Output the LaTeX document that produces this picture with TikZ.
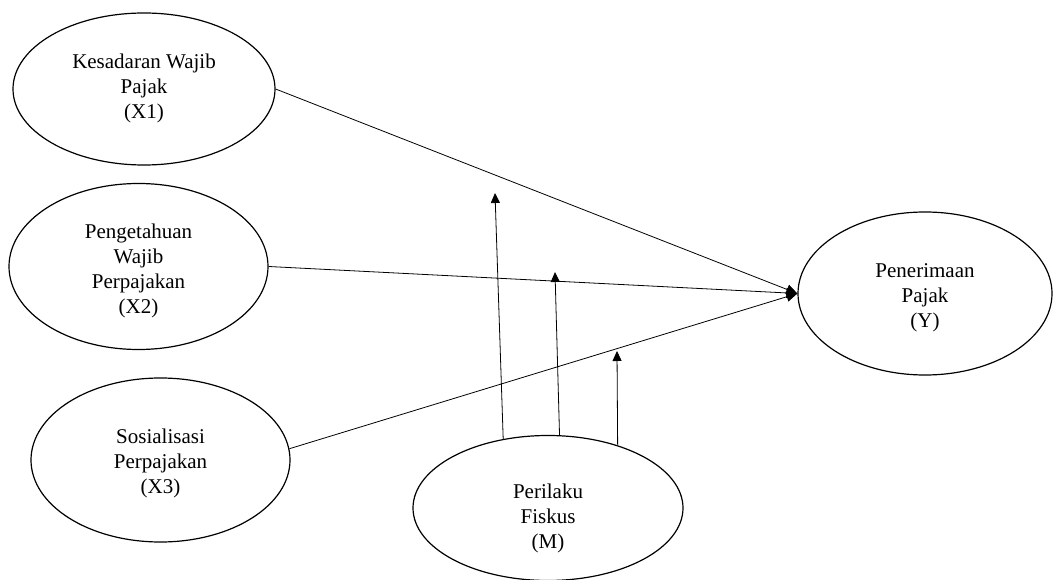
\documentclass[tikz,border=0pt]{standalone}
\usepackage{fontspec}
\setmainfont{Liberation Serif}
\usetikzlibrary{shapes.geometric,arrows.meta,calc}
\begin{document}
\begin{tikzpicture}[x=1pt,y=-1pt,
  oval/.style={draw,ellipse,line width=1.2pt,inner sep=0pt},
  lbl/.style={align=center,font=\fontsize{21}{25}\selectfont,inner sep=0pt},
  conn/.style={line width=0.8pt,-{Triangle[width=10pt,length=11pt]}},
  modarrow/.style={line width=0.8pt,-{Triangle[width=9pt,length=10pt]}}]
\useasboundingbox (0,0) rectangle (1053,580);
% ellipses
\node[oval,minimum width=262pt,minimum height=152pt] (x1) at (144,89) {};
\node[oval,minimum width=259pt,minimum height=166pt] (x2) at (138.5,266.5) {};
\node[oval,minimum width=259pt,minimum height=164pt] (x3) at (160.5,460) {};
\node[oval,minimum width=254pt,minimum height=163pt] (y) at (925,293.5) {};
\node[oval,minimum width=270pt,minimum height=145pt] (m) at (548,508) {};
% labels
\node[lbl] (x1t) at (144,88) {Kesadaran Wajib\\Pajak\\(X1)};
\node[lbl] (x2t) at (138.5,270.5) {Pengetahuan\\Wajib\\Perpajakan\\(X2)};
\node[lbl] (x3t) at (160.5,463) {Sosialisasi\\Perpajakan\\(X3)};
\node[lbl] (yt) at (925,298) {Penerimaan\\Pajak\\(Y)};
\node[lbl] (mt) at (548,518) {Perilaku\\Fiskus\\(M)};
% main paths
\draw[conn] (x1.east) -- (y.west);
\draw[conn] (x2.east) -- (y.west);
\draw[conn] (x3.5) -- (y.west);
% moderating arrows
\coordinate (t1) at (495,193);
\coordinate (t2) at (555,272);
\coordinate (t3) at (617,351);
\draw[modarrow] (m.123.3) -- (t1);
\draw[modarrow] (m.81.3) -- (t2);
\draw[modarrow] (m.42.6) -- (t3);
\end{tikzpicture}
\end{document}
